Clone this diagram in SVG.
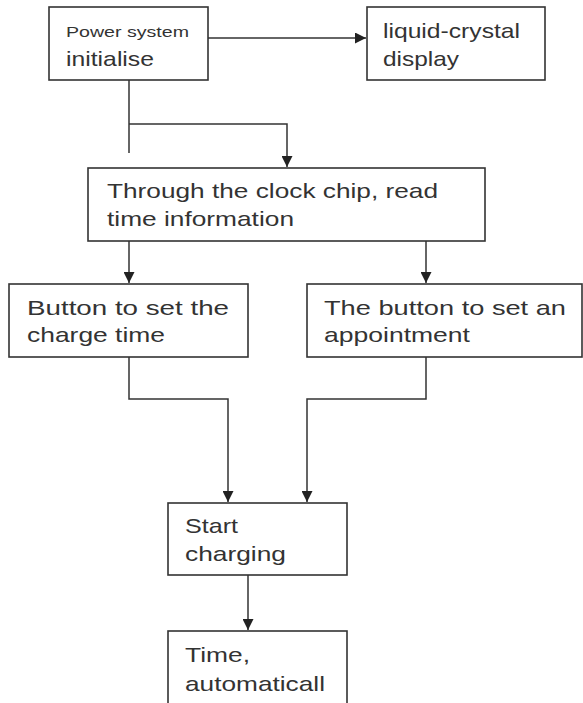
<svg xmlns="http://www.w3.org/2000/svg" width="583" height="703" viewBox="0 0 583 703">
<style>
.box{fill:#fff;stroke:#333;stroke-width:1.6}
.t{font-family:"Liberation Sans",Arial,sans-serif;fill:#333;font-size:21px}
.s{font-size:14px}
.c{fill:none;stroke:#333;stroke-width:1.5}
</style>
<defs>
<marker id="ah" viewBox="0 0 10 10" refX="10" refY="5" markerWidth="11" markerHeight="11" markerUnits="userSpaceOnUse" orient="auto">
<path d="M0,0 L10,5 L0,10 z" fill="#222"/>
</marker>
</defs>
<rect width="583" height="703" fill="#fff"/>
<g id="connectors">
<path class="c" d="M208,38 H366" marker-end="url(#ah)"/>
<path class="c" d="M129,80 V153"/>
<path class="c" d="M129,124 H287 V167" marker-end="url(#ah)"/>
<path class="c" d="M129,241 V283" marker-end="url(#ah)"/>
<path class="c" d="M426,241 V283" marker-end="url(#ah)"/>
<path class="c" d="M129,357 V399 H228 V502" marker-end="url(#ah)"/>
<path class="c" d="M426,357 V399 H307 V502" marker-end="url(#ah)"/>
<path class="c" d="M248,575 V630" marker-end="url(#ah)"/>
</g>
<g id="n1">
<rect class="box" x="49" y="7" width="159" height="73"/>
<text class="t s" x="66" y="37" textLength="123" lengthAdjust="spacingAndGlyphs">Power system</text>
<text class="t" x="66" y="66" textLength="88" lengthAdjust="spacingAndGlyphs">initialise</text>
</g>
<g id="n2">
<rect class="box" x="367" y="7" width="178" height="73"/>
<text class="t" x="383" y="38" font-size="19" textLength="137" lengthAdjust="spacingAndGlyphs">liquid-crystal</text>
<text class="t" x="383" y="66" font-size="19" textLength="76" lengthAdjust="spacingAndGlyphs">display</text>
</g>
<g id="n3">
<rect class="box" x="88" y="168" width="397" height="73"/>
<text class="t" x="107" y="198" textLength="331" lengthAdjust="spacingAndGlyphs">Through the clock chip, read</text>
<text class="t" x="107" y="226" textLength="187" lengthAdjust="spacingAndGlyphs">time information</text>
</g>
<g id="n4">
<rect class="box" x="9" y="284" width="239" height="73"/>
<text class="t" x="27" y="315" textLength="202" lengthAdjust="spacingAndGlyphs">Button to set the</text>
<text class="t" x="27" y="342" textLength="138" lengthAdjust="spacingAndGlyphs">charge time</text>
</g>
<g id="n5">
<rect class="box" x="307" y="284" width="275" height="73"/>
<text class="t" x="324" y="315" textLength="242" lengthAdjust="spacingAndGlyphs">The button to set an</text>
<text class="t" x="324" y="342" textLength="146" lengthAdjust="spacingAndGlyphs">appointment</text>
</g>
<g id="n6">
<rect class="box" x="168" y="503" width="179" height="72"/>
<text class="t" x="185" y="533" textLength="53" lengthAdjust="spacingAndGlyphs">Start</text>
<text class="t" x="185" y="561" textLength="101" lengthAdjust="spacingAndGlyphs">charging</text>
</g>
<g id="n7">
<rect class="box" x="168" y="631" width="179" height="80"/>
<text class="t" x="185" y="662" textLength="65" lengthAdjust="spacingAndGlyphs">Time,</text>
<text class="t" x="185" y="691" textLength="140" lengthAdjust="spacingAndGlyphs">automaticall</text>
</g>
</svg>
